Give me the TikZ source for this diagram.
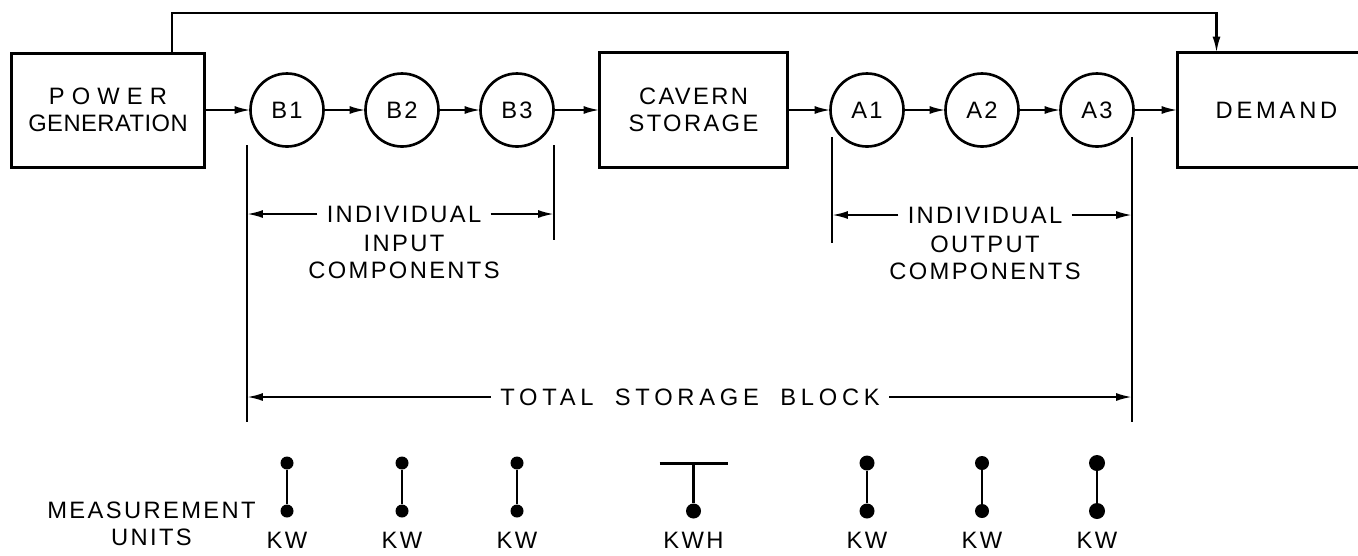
\documentclass[tikz,border=0pt]{standalone}
\usepackage{fontspec}
\setmainfont{Liberation Sans}[LetterSpace=10]
\usetikzlibrary{arrows.meta, positioning}

\begin{document}
\begin{tikzpicture}[node distance=0.84cm, >={Latex[length=9pt,width=4.5pt]},
    font=\fontsize{13.5}{15.4}\selectfont,
    block/.style={draw, line width=1.7pt, rectangle, minimum height=2.3cm, align=center, outer sep=0pt},
    comp/.style={draw, line width=1.5pt, circle, minimum size=1.46cm, inner sep=0pt, outer sep=0pt},
    flow/.style={->, line width=1.2pt},
    ext/.style={line width=1.2pt},
    lbl/.style={inner xsep=0.18cm, inner ysep=0pt},
    mdot/.style={circle, fill, inner sep=0pt, minimum size=#1},
    mdot/.default=0.24cm]
    \useasboundingbox (0,0) rectangle (27.16,-11.1);
    \node[block, minimum width=3.86cm, minimum height=2.28cm] (pg) at (2.16,-2.2) {{\addfontfeatures{LetterSpace=30}POWER}\\{\addfontfeatures{LetterSpace=2}GENERATION}};
    \node[comp, right=0.92cm of pg] (b1) {B1};
    \node[comp, right=of b1] (b2) {B2};
    \node[comp, right=of b2] (b3) {B3};
    \node[block, minimum width=3.76cm, right=0.92cm of b3] (cs) {CAVERN\\STORAGE};
    \node[comp, right=0.86cm of cs] (a1) {A1};
    \node[comp, right=of a1] (a2) {A2};
    \node[comp, right=of a2] (a3) {A3};
    \node[block, minimum width=3.96cm, right=0.88cm of a3] (dm) {{\addfontfeatures{LetterSpace=16}DEMAND}};
    \foreach \a/\b in {pg/b1, b1/b2, b2/b3, b3/cs, cs/a1, a1/a2, a2/a3, a3/dm}
        \draw[flow] (\a) -- (\b);
    \draw[flow] ([xshift=1.28cm]pg.north) -- ++(0,0.8) -| ([xshift=-1.2cm]dm.north);

    \coordinate (xa) at (4.94,-2.9);
    \coordinate (xb) at (11.08,-2.9);
    \coordinate (xc) at (16.64,-2.74);
    \coordinate (xd) at (22.64,-2.74);
    \draw[ext] (xa) -- ++(0,-5.54);
    \draw[ext] (xb) -- ++(0,-1.9);
    \draw[ext] (xc) -- ++(0,-2.12);
    \draw[ext] (xd) -- ++(0,-5.7);

    \node[lbl] (ini) at (8.08,-4.28) {INDIVIDUAL};
    \node[below=0.24cm of ini, align=center, inner sep=0pt] (inc) {INPUT\\COMPONENTS};
    \draw[flow] (ini.west) -- (ini.west -| xa);
    \draw[flow] (ini.east) -- (ini.east -| xb);
    \node[lbl] (outi) at (19.7,-4.3) {INDIVIDUAL};
    \node[below=0.24cm of outi, align=center, inner sep=0pt] (outc) {OUTPUT\\COMPONENTS};
    \draw[flow] (outi.west) -- (outi.west -| xc);
    \draw[flow] (outi.east) -- (outi.east -| xd);
    \node[lbl] (tot) at (13.8,-7.94) {\addfontfeatures{LetterSpace=20}TOTAL\hspace{0.9em}STORAGE\hspace{0.9em}BLOCK};
    \draw[flow] (tot.west) -- (tot.west -| xa);
    \draw[flow] (tot.east) -- (tot.east -| xd);

    \coordinate (mtop) at (0,-9.26);
    \coordinate (mbot) at (0,-10.22);
    \coordinate (kwrow) at (0,-10.8);
    \node[align=center] (mu) at (3.03,-10.47) {MEASUREMENT\\UNITS};
    \foreach \n/\s in {b1/0.26cm, b2/0.26cm, b3/0.26cm, a1/0.3cm, a2/0.28cm, a3/0.32cm} {
        \node[mdot=\s] (\n-t) at (\n |- mtop) {};
        \node[mdot=\s] (\n-d) at (\n |- mbot) {};
        \draw[ext] (\n-t) -- (\n-d);
        \node (\n-u) at (\n |- kwrow) {KW};
    }
    \coordinate (kbar) at (cs |- mtop);
    \draw[line width=1.7pt] ([xshift=-0.68cm]kbar) -- ([xshift=0.68cm]kbar);
    \node[mdot=0.3cm] (kd) at (cs |- mbot) {};
    \draw[ext] (kbar) -- (kd);
    \node (kwh) at (cs |- kwrow) {KWH};
\end{tikzpicture}
\end{document}
